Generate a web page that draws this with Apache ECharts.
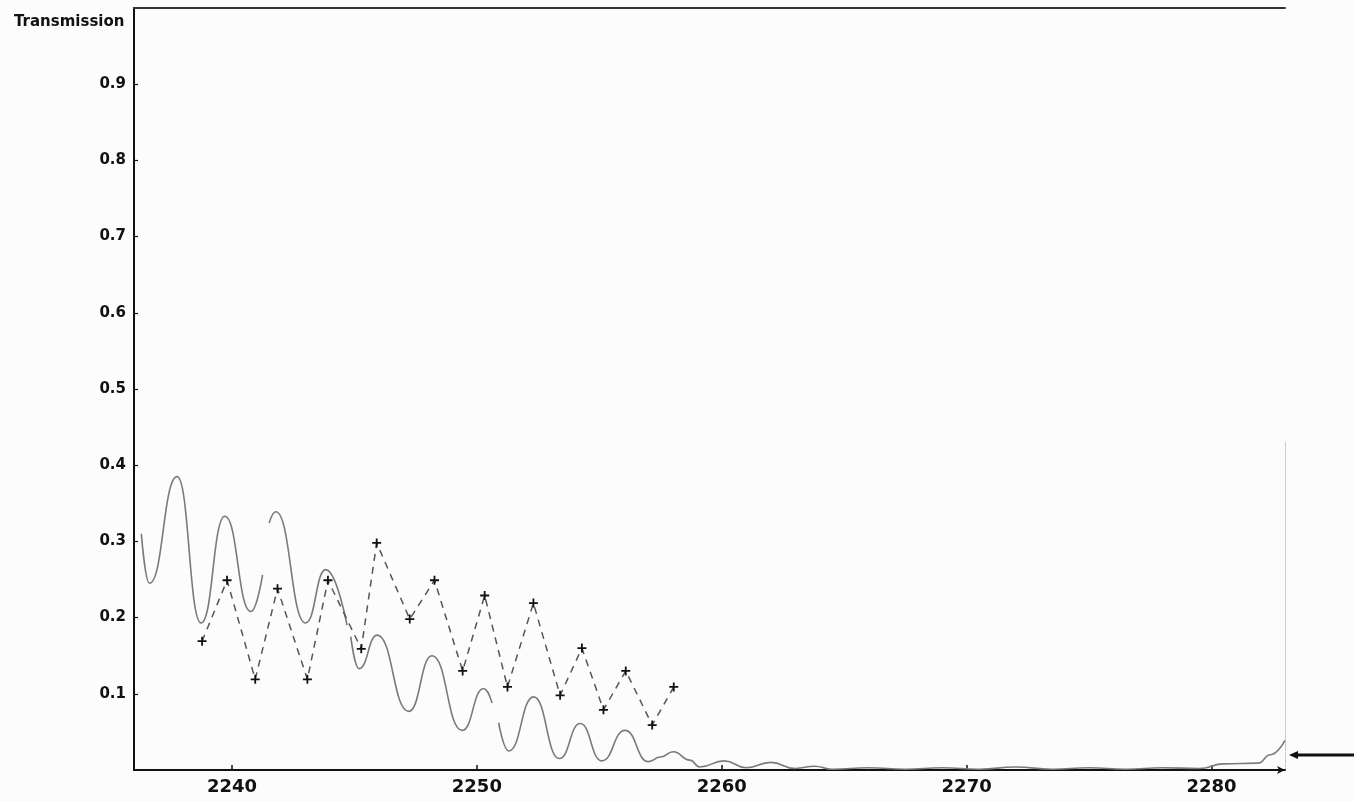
<!DOCTYPE html>
<html>
<head>
<meta charset="utf-8">
<script src="https://cdn.jsdelivr.net/npm/echarts@6/dist/echarts.min.js"></script>
<style>
html,body{margin:0;padding:0;background:#fcfcfc;}
#chart{width:1354px;height:802px;}
</style>
</head>
<body>
<div id="chart"></div>
<script>
// Wavenumber ticks and transmission ticks
const xTicks = [2240, 2250, 2260, 2270, 2280];
const yTicks = [0.1, 0.2, 0.3, 0.4, 0.5, 0.6, 0.7, 0.8, 0.9];

// Continuous (computed) transmission curve; null breaks the trace
const curveX = [
  2236.3, 2236.63, 2237.76, 2238.74, 2239.71, 2240.77, 2241.25, 2241.4,
  2241.52, 2241.79, 2243.01, 2243.83, 2244.7, 2244.77,
  2244.85, 2245.19, 2245.93, 2247.22, 2248.17, 2249.40, 2250.28, 2250.62, 2250.75,
  2250.89, 2251.30, 2252.32, 2253.37, 2254.22, 2255.10, 2256.05, 2257.00,
  2257.5, 2258.02, 2258.7, 2259.1, 2260.1, 2261.0, 2262.0, 2263.0, 2263.8,
  2264.5, 2266.0, 2267.5, 2269.0, 2270.5, 2272.0, 2273.5, 2275.0, 2276.5,
  2278.0, 2279.5, 2280.5, 2281.9, 2282.4, 2283.0
];
const curveY = [
  0.31, 0.245, 0.385, 0.193, 0.333, 0.208, 0.256, null,
  0.324, 0.339, 0.193, 0.263, 0.19, null,
  0.175, 0.133, 0.177, 0.077, 0.150, 0.052, 0.107, 0.088, null,
  0.062, 0.025, 0.096, 0.015, 0.061, 0.012, 0.052, 0.011,
  0.017, 0.024, 0.013, 0.004, 0.012, 0.003, 0.010, 0.002, 0.005,
  0.001, 0.003, 0.001, 0.003, 0.001, 0.004, 0.001, 0.003, 0.001,
  0.003, 0.002, 0.008, 0.009, 0.02, 0.039
];

// Measured transmission points (dashed with + markers)
const measX = [
  2238.78, 2239.80, 2240.95, 2241.86, 2243.08, 2243.92, 2245.28, 2245.91,
  2247.26, 2248.27, 2249.42, 2250.32, 2251.25, 2252.31, 2253.40, 2254.29,
  2255.17, 2256.08, 2257.16, 2258.04
];
const measY = [
  0.169, 0.249, 0.119, 0.238, 0.119, 0.249, 0.159, 0.298,
  0.198, 0.249, 0.130, 0.229, 0.109, 0.219, 0.098, 0.160,
  0.079, 0.130, 0.059, 0.109
];

const curveData = curveX.map((x, i) => [x, curveY[i] === null ? '-' : curveY[i]]);
const measData = measX.map((x, i) => [x, measY[i]]);

const chart = echarts.init(document.getElementById('chart'));
const fontFam = '"DejaVu Sans", "Liberation Sans", sans-serif';
const plusPath = 'path://M4,0 L6,0 L6,4 L10,4 L10,6 L6,6 L6,10 L4,10 L4,6 L0,6 L0,4 L4,4 Z';

chart.setOption({
  backgroundColor: '#fcfcfc',
  animation: false,
  title: {
    text: 'Transmission',
    left: 9,
    top: 10,
    textStyle: { fontFamily: fontFam, fontSize: 15, fontWeight: 'bold', color: '#111' }
  },
  grid: { left: 134, right: 69, top: 8, bottom: 32 },
  xAxis: [{
    type: 'value',
    min: 2236,
    max: 2283,
    splitLine: { show: false },
    axisLine: { lineStyle: { color: '#111', width: 2 }, symbol: ['none', 'arrow'], symbolSize: [6, 8] },
    axisTick: { inside: true, length: 5, lineStyle: { color: '#111', width: 1.5 }, customValues: xTicks },
    axisLabel: {
      customValues: xTicks,
      margin: 8,
      fontFamily: fontFam, fontSize: 18, fontWeight: 'bold', color: '#111',
      formatter: v => String(v)
    }
  }, {
    type: 'value',
    position: 'top',
    min: 2236,
    max: 2283,
    splitLine: { show: false },
    axisLine: { show: true, lineStyle: { color: '#333', width: 2 } },
    axisTick: { show: false },
    axisLabel: { show: false }
  }],
  yAxis: {
    type: 'value',
    min: 0,
    max: 1,
    splitLine: { show: false },
    axisLine: { show: true, lineStyle: { color: '#111', width: 2 } },
    axisTick: { inside: true, length: 4, lineStyle: { color: '#111', width: 1.2 }, customValues: yTicks },
    axisLabel: {
      customValues: yTicks,
      margin: 8,
      fontFamily: fontFam, fontSize: 15, fontWeight: 'bold', color: '#111',
      formatter: v => v.toFixed(1)
    }
  },
  series: [{
    type: 'line',
    data: curveData,
    smooth: 0.5,
    smoothMonotone: 'x',
    connectNulls: false,
    showSymbol: false,
    lineStyle: { color: '#7a7a7a', width: 1.6 },
    z: 2,
    markLine: {
      silent: true,
      symbol: ['none', 'none'],
      label: { show: false },
      lineStyle: { color: '#999', type: 'dotted', width: 1 },
      data: [[{ coord: [2283, 0.43] }, { coord: [2283, 0] }]]
    }
  }, {
    type: 'line',
    data: measData,
    smooth: false,
    symbol: plusPath,
    symbolSize: 9,
    showSymbol: true,
    itemStyle: { color: '#111' },
    lineStyle: { color: '#555', width: 1.5, type: [7, 6] },
    z: 3
  }],
  graphic: [{
    type: 'line',
    shape: { x1: 1296, y1: 755, x2: 1354, y2: 755 },
    style: { stroke: '#111', lineWidth: 3 }
  }, {
    type: 'polygon',
    shape: { points: [[1289, 755], [1298, 751], [1298, 759]] },
    style: { fill: '#111' }
  }]
});
</script>
</body>
</html>
